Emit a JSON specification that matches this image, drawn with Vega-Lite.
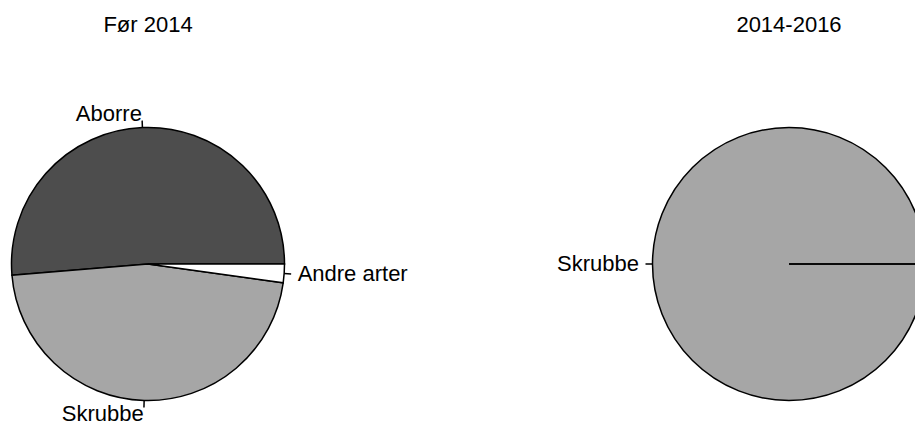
{
  "$schema": "https://vega.github.io/schema/vega-lite/v6.json",
  "width": 915,
  "height": 424,
  "autosize": {"type": "fit", "contains": "padding"},
  "padding": 0,
  "background": "white",
  "config": {"view": {"stroke": null}, "font": "Liberation Sans"},
  "data": {
    "values": [
      {"panel": "Før 2014", "art": "Aborre", "value": 51.3},
      {"panel": "Før 2014", "art": "Skrubbe", "value": 46.5},
      {"panel": "Før 2014", "art": "Andre arter", "value": 2.2},
      {"panel": "2014-2016", "art": "Aborre", "value": 0},
      {"panel": "2014-2016", "art": "Skrubbe", "value": 100},
      {"panel": "2014-2016", "art": "Andre arter", "value": 0}
    ]
  },
  "transform": [
    {"stack": "value", "groupby": ["panel"], "offset": "normalize", "as": ["v0", "v1"]},
    {"calculate": "(datum.v0 + datum.v1) / 2", "as": "mid"}
  ],
  "encoding": {
    "x": {
      "field": "panel",
      "type": "nominal",
      "scale": {"type": "point", "domain": ["Før 2014", "2014-2016"], "range": [148, 789], "padding": 0},
      "axis": null
    }
  },
  "layer": [
    {
      "mark": {"type": "arc", "outerRadius": 136.5, "stroke": "black", "strokeWidth": 1.5},
      "encoding": {
        "y": {"datum": "pie", "type": "nominal", "scale": {"type": "point", "domain": ["title", "pie"], "range": [25, 264], "padding": 0}, "axis": null},
        "theta": {"field": "v0", "type": "quantitative", "stack": null, "scale": {"domain": [0, 1], "range": [1.5707963, -4.712389]}},
        "theta2": {"field": "v1"},
        "color": {
          "field": "art",
          "type": "nominal",
          "scale": {"domain": ["Aborre", "Skrubbe", "Andre arter"], "range": ["#4d4d4d", "#a6a6a6", "#ffffff"]},
          "legend": null
        }
      }
    },
    {
      "transform": [{"filter": "datum.value > 0"}],
      "mark": {"type": "arc", "innerRadius": 136.5, "outerRadius": 143.5, "filled": false, "stroke": "black", "strokeWidth": 1.5},
      "encoding": {
        "y": {"datum": "pie", "type": "nominal"},
        "theta": {"field": "mid", "type": "quantitative", "stack": null},
        "theta2": {"field": "mid"}
      }
    },
    {
      "transform": [{"filter": "datum.value > 0"}],
      "mark": {
        "type": "text",
        "radius": 150,
        "fontSize": 22,
        "baseline": "middle",
        "color": "black",
        "align": {"expr": "cos(2 * PI * datum.mid) < 0 ? 'right' : 'left'"}
      },
      "encoding": {
        "y": {"datum": "pie", "type": "nominal"},
        "theta": {"field": "mid", "type": "quantitative", "stack": null},
        "text": {"field": "art"}
      }
    },
    {
      "transform": [{"aggregate": [{"op": "count", "as": "n"}], "groupby": ["panel"]}],
      "mark": {"type": "text", "fontSize": 22, "baseline": "middle", "align": "center", "color": "black"},
      "encoding": {
        "y": {"datum": "title", "type": "nominal"},
        "text": {"field": "panel"}
      }
    }
  ]
}
